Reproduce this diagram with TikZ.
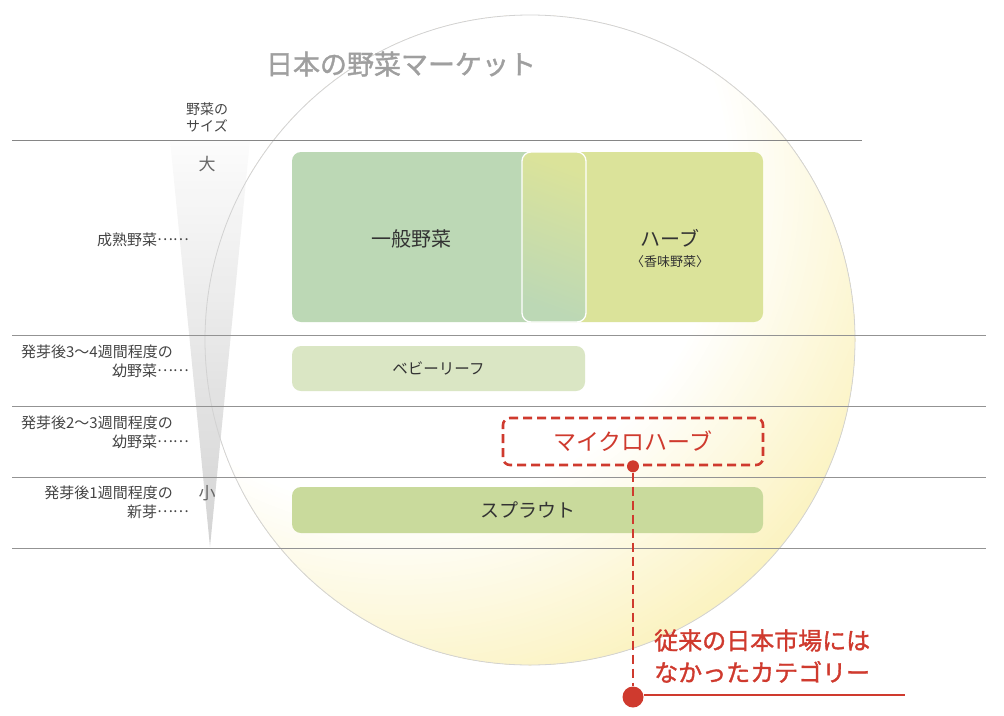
\documentclass[tikz,border=0pt]{standalone}
\usepackage{fontspec}
\setmainfont{Noto Sans CJK JP}
\newfontfamily\medfont{Noto Sans CJK JP}[FakeBold=1.4]
\definecolor{redc}{HTML}{CF3A2E}
\definecolor{genc}{HTML}{BCD8B5}
\definecolor{herbc}{HTML}{DBE39A}
\definecolor{babyc}{HTML}{DAE6C4}
\definecolor{sproutc}{HTML}{C9DA9C}
\definecolor{circy}{HTML}{FBF2BE}
\definecolor{txt}{HTML}{333333}
\definecolor{lbl}{HTML}{444444}
\newcommand{\dotsep}{\raisebox{0.33em}{……}}
\begin{document}
\begin{tikzpicture}[x=1pt,y=-1pt,
  boxst/.style={draw=none, rounded corners=9pt, inner sep=0pt},
  sidelbl/.style={font=\fontsize{15}{19}\selectfont, text=lbl, inner sep=0pt, align=right, anchor=east},
  hline/.style={draw=gray!85, line width=0.9pt},
  dot/.style={circle, fill=redc, inner sep=0pt, draw=none}]
\useasboundingbox (0,0) rectangle (1004,715);
% market circle (soft radial glow, white at upper left)
\begin{scope}
\clip (530,340) circle (325);
\fill[circy] (530,340) circle (330);
\foreach \i in {0,...,42}{
  \pgfmathsetmacro\rr{540-\i*5}
  \pgfmathsetmacro\pp{100-\i*100/42}
  \fill[circy!\pp!white] (400,180) circle (\rr);
}
\end{scope}
% size wedge
\shade[top color=gray!3, bottom color=gray!40, opacity=0.85] (170,140) -- (250,140) -- (210,547) -- cycle;
\draw[gray!35, line width=0.8pt] (530,340) circle (325);
% horizontal rules
\draw[hline, draw=gray!95] (12,140) -- (862,140);
\draw[hline] (12,335) -- (986,335);
\draw[hline] (12,406) -- (986,406);
\draw[hline] (12,477) -- (986,477);
\draw[hline] (12,548) -- (986,548);
% title
\node[font=\fontsize{27}{30}\medfont, text=gray!75, inner sep=0pt] (title) at (401,64) {日本の野菜マーケット};
\node[font=\fontsize{14}{17}\selectfont, text=lbl, align=center, inner sep=0pt] (sizelbl) at (207,117) {野菜の\\サイズ};
\node[font=\fontsize{17}{17}\selectfont, text=gray!80!black, inner sep=0pt] (big) at (207,164) {大};
\node[font=\fontsize{17}{17}\selectfont, text=gray!80!black, inner sep=0pt] (small) at (207,493) {小};
% side labels
\node[sidelbl] (l1) at (189,240) {成熟野菜\dotsep};
\node[sidelbl] (l2) at (189,361) {発芽後3～4週間程度の\hspace*{16pt}\\幼野菜\dotsep};
\node[sidelbl] (l3) at (189,432) {発芽後2～3週間程度の\hspace*{16pt}\\幼野菜\dotsep};
\node[sidelbl] (l4) at (189,502) {発芽後1週間程度の\hspace*{16pt}\\新芽\dotsep};
% boxes
\node[boxst, fill=genc, minimum width=294pt, minimum height=170pt] (gen) at (439,237) {};
\node[boxst, fill=herbc, minimum width=241pt, minimum height=170pt] (herb) at (642.5,237) {};
\node[boxst, draw=white, line width=1.3pt, top color=herbc, bottom color=genc, shading angle=-20, minimum width=64pt, minimum height=170pt] (overlap) at (554,237) {};
\node[font=\fontsize{20}{20}\selectfont, text=txt, inner sep=0pt] (gent) at (411,239) {一般野菜};
\node[font=\fontsize{20}{20}\selectfont, text=txt, inner sep=0pt] (herbt) at (670,238) {ハーブ};
\node[font=\fontsize{13}{13}\selectfont, text=txt, inner sep=0pt] (herbs) at (670,262) {〈香味野菜〉};
\node[boxst, fill=babyc, minimum width=293pt, minimum height=45pt, font=\fontsize{15.5}{15.5}\selectfont, text=txt] (baby) at (438.5,368.5) {ベビーリーフ};
\node[boxst, fill=sproutc, minimum width=471pt, minimum height=46pt, font=\fontsize{19}{19}\selectfont, text=txt] (sprout) at (527.5,510) {スプラウト};
\node[draw=redc, line width=2.6pt, dash pattern=on 9pt off 5pt, rounded corners=7pt, minimum width=260pt, minimum height=47pt, inner sep=0pt, font=\fontsize{23}{23}\selectfont, text=redc] (micro) at (633,441.5) {マイクロハーブ};
\node[dot, minimum size=12pt] (mdot) at (micro.south) {};
\node[dot, minimum size=21pt] (bdot) at (633,697) {};
\coordinate (lineend) at (905,695);
\draw[redc, line width=2.6pt, dash pattern=on 9pt off 5pt] (mdot) -- (bdot);
\draw[redc, line width=1.1pt] (bdot.east |- lineend) -- (lineend);
\node[font=\fontsize{24}{32}\medfont, text=redc, align=left, anchor=west, inner sep=0pt] (note) at (654,656) {従来の日本市場には\\なかったカテゴリー};
\end{tikzpicture}
\end{document}
